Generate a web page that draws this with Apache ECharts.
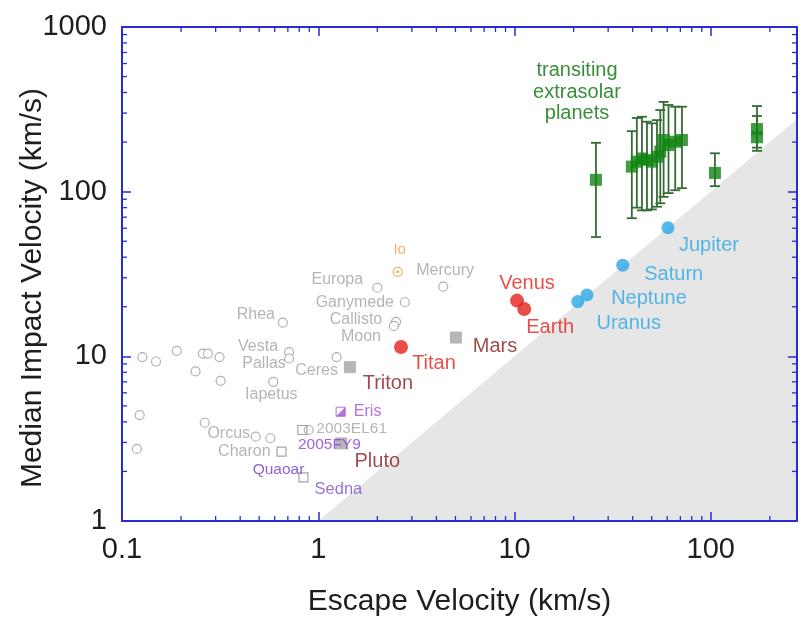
<!DOCTYPE html>
<html><head><meta charset="utf-8">
<script src="https://cdn.jsdelivr.net/npm/echarts@6/dist/echarts.min.js"></script>
<style>html,body{margin:0;padding:0;background:#fff}#c{width:800px;height:617px}</style>
</head><body><div id="c"></div>
<script>
// ---- data ----
const xTickLabels = ['0.1', '1', '10', '100'];
const yTickLabels = ['1', '10', '100', '1000'];
const minorMultipliers = [2, 3, 4, 5, 6, 7, 8, 9];

// [name, escape velocity, median impact velocity]
const smallBodies = [
  ['', 0.127, 9.9], ['', 0.149, 9.3], ['', 0.19, 10.8], ['', 0.237, 8.1],
  ['', 0.258, 10.4], ['', 0.274, 10.4], ['', 0.314, 9.9], ['', 0.318, 7.1],
  ['Rhea', 0.66, 16.0], ['Vesta', 0.71, 10.6], ['Pallas', 0.71, 9.7],
  ['Iapetus', 0.59, 7.0], ['Ceres', 1.24, 9.9], ['', 0.123, 4.4], ['', 0.119, 2.74],
  ['Orcus', 0.264, 3.95], ['', 0.48, 3.25], ['Charon', 0.57, 3.18],
  ['Europa', 2.0, 26.1], ['Mercury', 4.33, 26.5], ['Ganymede', 2.76, 21.3],
  ['Callisto', 2.49, 16.2], ['Moon', 2.43, 15.3], ['2003EL61', 0.894, 3.57]
];
const ioPoint = [['Io', 2.54, 32.6]];
const redBodies = [['Titan', 2.64, 11.4], ['Venus', 10.3, 21.8], ['Earth', 11.2, 19.4]];
const giantPlanets = [['Jupiter', 60.5, 60.4], ['Saturn', 35.6, 35.8], ['Neptune', 23.4, 23.6], ['Uranus', 21.0, 21.5]];
const graySquares = [['Mars', 5.03, 13.0], ['Triton', 1.45, 8.6], ['Pluto', 1.31, 2.96]];
const openSquares = [['2005FY9', 0.83, 3.57], ['Quaoar', 0.65, 2.64], ['Sedna', 0.84, 1.84]];
const erisPoint = [['Eris', 1.30, 4.61]];

const exoEsc = [26.0, 39.6, 42.0, 44.6, 47.3, 50.1, 53.2, 55.3, 57.5, 60.9, 65.9, 71.3, 105, 172, 172];
const exoImp = [118, 142, 152, 159, 156, 152, 163, 175, 206, 192, 201, 206, 130, 240, 214];
const exoHi  = [198, 233, 280, 285, 266, 260, 272, 313, 351, 336, 328, 328, 171, 331, 288];
const exoLo  = [53, 69, 80, 77, 77, 78, 81, 85, 93, 98, 102, 105, 108, 185, 177];

const xMin = 0.1, xMax = 275, yMin = 1, yMax = 1000;

// ---- styles ----
const FONT = '"Liberation Sans", Arial, Helvetica, sans-serif';
const AXIS_BLUE = '#2b2bd2';
const styles = {
  gray:   { color: '#a2a2a2', fontSize: 16 },
  grayS:  { color: '#a2a2a2', fontSize: 15.5 },
  io:     { color: '#e2a43c', fontSize: 15 },
  red:    { color: '#e3231b', fontSize: 20 },
  maroon: { color: '#8a1a1e', fontSize: 20 },
  blue:   { color: '#2aa9e6', fontSize: 20 },
  eris:   { color: '#a24fd6', fontSize: 16 },
  fy9:    { color: '#8a3bd4', fontSize: 15.5 },
  quaoar: { color: '#6a3cc2', fontSize: 15.5 },
  sedna:  { color: '#8051c9', fontSize: 16.5 }
};
// label offsets (px) from the marker centre
const labelLayout = {
  Io: [2, -22, 'io'], Europa: [-40, -8, 'gray'], Mercury: [2, -16, 'gray'],
  Ganymede: [-50, 0, 'gray'], Callisto: [-40, -2, 'gray'], Moon: [-33, 11, 'gray'],
  Rhea: [-27, -8, 'gray'], Vesta: [-31, -6, 'gray'], Pallas: [-25, 5, 'gray'],
  Ceres: [-20, 14, 'gray'], Iapetus: [-2, 13, 'gray'], Orcus: [24, 11, 'gray'],
  Charon: [-26, 13, 'gray'], '2003EL61': [43, -1, 'grayS'],
  '2005FY9': [27, 15, 'fy9'], Eris: [27, 0, 'eris'], Quaoar: [-3, 18, 'quaoar'],
  Sedna: [35, 12, 'sedna'], Pluto: [36, 18, 'maroon'], Triton: [38, 16, 'maroon'],
  Titan: [33, 17, 'red'], Mars: [39, 9, 'maroon'], Venus: [10, -17, 'red'],
  Earth: [26, 19, 'red'], Neptune: [62, 4, 'blue'], Uranus: [51, 22, 'blue'],
  Saturn: [51, 9, 'blue'], Jupiter: [41, 18, 'blue']
};

const toXY = arr => arr.map(d => ({ name: d[0], value: [d[1], d[2]] }));
const allPoints = [].concat(smallBodies, ioPoint, redBodies, giantPlanets, graySquares, openSquares, erisPoint);
const labelData = allPoints.filter(d => labelLayout[d[0]]).map(d => {
  const L = labelLayout[d[0]], s = styles[L[2]];
  return { value: [d[1], d[2]], label: { formatter: d[0], offset: [L[0], L[1]], color: s.color, fontSize: s.fontSize } };
});

const xMinor = [], yMinor = [];
[0.1, 1, 10, 100].forEach(dec => minorMultipliers.forEach(m => { const v = dec * m; if (v < xMax) xMinor.push([v, yMin]); }));
[1, 10, 100].forEach(dec => minorMultipliers.forEach(m => yMinor.push([xMin, dec * m])));
const exoBars = exoEsc.map((x, i) => [x, exoLo[i], exoHi[i]]);
const exoPts = exoEsc.map((x, i) => [x, exoImp[i]]);

const fmt = labels => v => { const s = String(+(+v).toPrecision(6)); return labels.includes(s) ? s : ''; };

const axisCommon = {
  type: 'log', logBase: 10, z: 10,
  axisLine: { show: true, lineStyle: { color: AXIS_BLUE, width: 2 } },
  axisTick: { show: true, inside: true, length: 9, lineStyle: { color: AXIS_BLUE, width: 1.5 } },
  splitLine: { show: false }, minorTick: { show: false }
};

const chart = echarts.init(document.getElementById('c'), null, { renderer: 'canvas' });
chart.setOption({
  animation: false,
  backgroundColor: '#ffffff',
  textStyle: { fontFamily: FONT },
  grid: { left: 122, right: 3, top: 27, bottom: 96, containLabel: false, outerBoundsMode: 'none' },
  xAxis: [
    Object.assign({}, axisCommon, {
      min: xMin, max: xMax, position: 'bottom',
      axisLabel: { fontSize: 29, color: '#1e1e1e', margin: 14, fontFamily: FONT, formatter: fmt(xTickLabels) },
      name: 'Escape Velocity (km/s)', nameLocation: 'middle', nameGap: 66, nameMoveOverlap: false,
      nameTextStyle: { fontSize: 30, color: '#1e1e1e', fontFamily: FONT }
    }),
    Object.assign({}, axisCommon, { min: xMin, max: xMax, position: 'top', axisLabel: { show: false } })
  ],
  yAxis: [
    Object.assign({}, axisCommon, {
      min: yMin, max: yMax, position: 'left',
      axisLabel: { fontSize: 29, color: '#1e1e1e', margin: 15, fontFamily: FONT, formatter: fmt(yTickLabels) },
      name: 'Median Impact Velocity (km/s)', nameLocation: 'middle', nameGap: 74, nameMoveOverlap: false,
      nameTextStyle: { fontSize: 30, color: '#1e1e1e', fontFamily: FONT, padding: [0, 28, 0, 0] }
    }),
    Object.assign({}, axisCommon, { min: yMin, max: yMax, position: 'right', axisLabel: { show: false } })
  ],
  graphic: [{
    type: 'text', x: 577, y: 92, z: 20,
    style: { text: 'transiting\nextrasolar\nplanets', fill: '#3a8d3a', font: '20px ' + FONT,
      textAlign: 'center', textVerticalAlign: 'middle', lineHeight: 21.5 }
  }],
  series: [
    { type: 'line', z: 1, silent: true, symbol: 'none', data: [[1, 1], [xMax, xMax]],
      lineStyle: { width: 0 }, areaStyle: { origin: 'start', color: '#e6e6e6', opacity: 1 } },
    { type: 'scatter', z: 3, symbol: 'circle', symbolSize: 9, data: toXY(smallBodies),
      itemStyle: { color: '#ffffff', borderColor: '#9c9c9c', borderWidth: 1.2 } },
    { type: 'scatter', z: 3, symbol: 'circle', symbolSize: 9, data: toXY(ioPoint),
      itemStyle: { color: '#ffffff', borderColor: '#e2a43c', borderWidth: 1.2 } },
    { type: 'scatter', z: 4, symbol: 'circle', symbolSize: 3, data: toXY(ioPoint),
      itemStyle: { color: '#e2a43c' } },
    { type: 'scatter', z: 3, symbol: 'rect', symbolSize: 12, data: toXY(graySquares),
      itemStyle: { color: '#a4a4a4' } },
    { type: 'scatter', z: 3, symbol: 'rect', symbolSize: 9, data: toXY(openSquares),
      itemStyle: { color: 'rgba(255,255,255,0)', borderColor: '#8d8d8d', borderWidth: 1.2 } },
    { type: 'scatter', z: 3, symbol: 'rect', symbolSize: 9, data: toXY(erisPoint),
      itemStyle: { color: '#ffffff', borderColor: '#a24fd6', borderWidth: 1 } },
    { type: 'scatter', z: 4, symbol: 'path://M10,0 L10,10 L0,10 Z', symbolSize: 9, data: toXY(erisPoint),
      itemStyle: { color: '#a24fd6' } },
    { type: 'scatter', z: 3, symbol: 'circle', symbolSize: 14, data: toXY(redBodies),
      itemStyle: { color: '#e3231b' } },
    { type: 'scatter', z: 3, symbol: 'circle', symbolSize: 13, data: toXY(giantPlanets),
      itemStyle: { color: '#2aa9e6' } },
    { type: 'custom', z: 4, silent: true, data: exoBars, encode: { x: 0, y: [1, 2] },
      renderItem: (params, api) => {
        const x = api.value(0), t = api.coord([x, api.value(2)]), b = api.coord([x, api.value(1)]);
        const w = 5, st = { stroke: '#356b35', lineWidth: 1.8 };
        return { type: 'group', children: [
          { type: 'line', shape: { x1: t[0], y1: t[1], x2: b[0], y2: b[1] }, style: st },
          { type: 'line', shape: { x1: t[0] - w, y1: t[1], x2: t[0] + w, y2: t[1] }, style: st },
          { type: 'line', shape: { x1: b[0] - w, y1: b[1], x2: b[0] + w, y2: b[1] }, style: st }
        ] };
      } },
    { type: 'scatter', z: 5, symbol: 'rect', symbolSize: 12, data: exoPts,
      itemStyle: { color: '#128512' } },
    { type: 'custom', z: 11, silent: true, clip: false, data: xMinor,
      renderItem: (params, api) => {
        const cs = params.coordSys, p = api.coord([api.value(0), api.value(1)]);
        const st = { stroke: AXIS_BLUE, lineWidth: 1.3 }, bot = cs.y + cs.height, L = 5;
        return { type: 'group', children: [
          { type: 'line', shape: { x1: p[0], y1: bot, x2: p[0], y2: bot - L }, style: st },
          { type: 'line', shape: { x1: p[0], y1: cs.y, x2: p[0], y2: cs.y + L }, style: st }
        ] };
      } },
    { type: 'custom', z: 11, silent: true, clip: false, data: yMinor,
      renderItem: (params, api) => {
        const cs = params.coordSys, p = api.coord([api.value(0), api.value(1)]);
        const st = { stroke: AXIS_BLUE, lineWidth: 1.3 }, right = cs.x + cs.width, L = 5;
        return { type: 'group', children: [
          { type: 'line', shape: { x1: cs.x, y1: p[1], x2: cs.x + L, y2: p[1] }, style: st },
          { type: 'line', shape: { x1: right, y1: p[1], x2: right - L, y2: p[1] }, style: st }
        ] };
      } },
    { type: 'scatter', z: 6, silent: true, symbolSize: 0, data: labelData,
      label: { show: true, position: 'inside', align: 'center', verticalAlign: 'middle', fontFamily: FONT } }
  ]
});
</script></body></html>
